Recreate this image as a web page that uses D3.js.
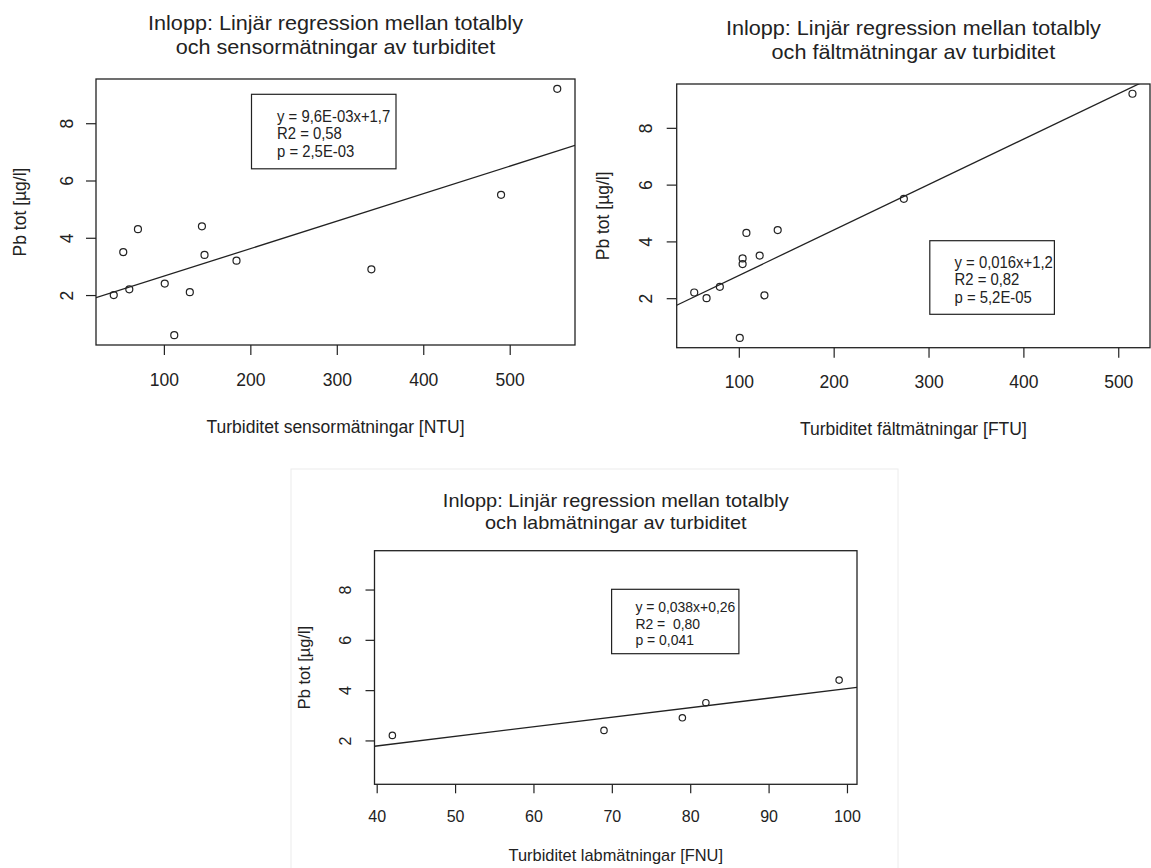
<!DOCTYPE html>
<html>
<head>
<meta charset="utf-8">
<script src="https://cdn.jsdelivr.net/npm/d3@7"></script>
<style>
  html, body { margin: 0; padding: 0; background: #fff; }
  svg { display: block; }
  text { font-family: "Liberation Sans", Arial, Helvetica, sans-serif; fill: #222; white-space: pre; }
</style>
</head>
<body>
<svg id="chart" width="1151" height="868"></svg>
<script>
// Lead (Pb tot) at the inlet against three kinds of turbidity measurement
const sensorNTU = [42, 53, 60, 70, 101, 112, 130, 144, 147, 184, 340, 490, 555];
const sensorPb  = [2.0, 3.5, 2.2, 4.3, 2.4, 0.6, 2.1, 4.4, 3.4, 3.2, 2.9, 5.5, 9.2];

const fieldFTU = [53, 66, 80, 101, 104, 104, 108, 122, 127, 141, 274, 515];
const fieldPb  = [2.2, 2.0, 2.4, 0.6, 3.4, 3.2, 4.3, 3.5, 2.1, 4.4, 5.5, 9.2];

const labFNU = [42, 69, 79, 82, 99];
const labPb  = [2.2, 2.4, 2.9, 3.5, 4.4];

// Fitted lines (slope, intercept) as printed in each legend
const fitSlopes     = [9.6e-3, 0.016, 0.038];
const fitIntercepts = [1.7, 1.2, 0.26];

const legendSensor = ["y = 9,6E-03x+1,7", "R2 = 0,58", "p = 2,5E-03"];
const legendField  = ["y = 0,016x+1,2", "R2 = 0,82", "p = 5,2E-05"];
const legendLab    = ["y = 0,038x+0,26", "R2 =  0,80", "p = 0,041"];

const xTicksTurb = [100, 200, 300, 400, 500];
const xTicksLab  = [40, 50, 60, 70, 80, 90, 100];
const yTicks     = [2, 4, 6, 8];
const yLimits    = [0.6, 9.2]; // shared y range of all three plots

const titleLine1 = "Inlopp: Linjär regression mellan totalbly";
const titleLines2 = ["och sensormätningar av turbiditet", "och fältmätningar av turbiditet", "och labmätningar av turbiditet"];
const xTitles = ["Turbiditet sensormätningar [NTU]", "Turbiditet fältmätningar [FTU]", "Turbiditet labmätningar [FNU]"];
const yTitle = "Pb tot [µg/l]";

// R-style axis range: data range widened by 4 % on each side
function rRange(lo, hi) {
  const d = (hi - lo) * 0.04;
  return [lo - d, hi + d];
}

const svg = d3.select("#chart");
const INK = "#222";

// faint edge of the lower figure
svg.append("rect")
  .attr("x", 291).attr("y", 469).attr("width", 607).attr("height", 410)
  .attr("fill", "none").attr("stroke", "#ececec").attr("stroke-width", 1);

const panels = [
  {
    xs: sensorNTU, ys: sensorPb, xTicks: xTicksTurb, legend: legendSensor, k: 0,
    box: { x0: 96, x1: 575, y0: 79, y1: 345 },
    titleBase: [30.5, 54.1], titleSize: 20.5, titleStretch: 1.055, tickFont: 17.5, tickLen: 10,
    yLabD: 22.7, xLabOff: 41, xTitleBase: 433, yTitleX: 26, axisTitleSize: 17.5, r: 3.5,
    leg: { x0: 251.5, x1: 396, y0: 94.3, y1: 168.8, tx: 277, base: [121.7, 139.3, 157.2], size: 16 }
  },
  {
    xs: fieldFTU, ys: fieldPb, xTicks: xTicksTurb, legend: legendField, k: 1,
    box: { x0: 676.7, x1: 1150, y0: 84, y1: 347.7 },
    titleBase: [35, 58.6], titleSize: 20.5, titleStretch: 1.055, tickFont: 17.5, tickLen: 10,
    yLabD: 24.7, xLabOff: 40.3, xTitleBase: 434.5, yTitleX: 609, axisTitleSize: 17.5, r: 3.5,
    leg: { x0: 929.8, x1: 1054.4, y0: 240.7, y1: 314.3, tx: 954.5, base: [268, 285.5, 303], size: 16 }
  },
  {
    xs: labFNU, ys: labPb, xTicks: xTicksLab, legend: legendLab, k: 2,
    box: { x0: 374.5, x1: 857, y0: 550.7, y1: 784.3 },
    titleBase: [507.5, 529.4], titleSize: 19, titleStretch: 1.05, tickFont: 16, tickLen: 9,
    yLabD: 23.3, xLabOff: 37.4, xTitleBase: 860.5, yTitleX: 309.5, axisTitleSize: 16.4, r: 3.2,
    leg: { x0: 611.6, x1: 738.9, y0: 589.3, y1: 653.7, tx: 635.4, base: [612.5, 629, 645.5], size: 15 }
  }
];

panels.forEach((p, i) => {
  const b = p.box;
  const x = d3.scaleLinear().domain(rRange(d3.min(p.xs), d3.max(p.xs))).range([b.x0, b.x1]);
  const y = d3.scaleLinear().domain(rRange(yLimits[0], yLimits[1])).range([b.y1, b.y0]);
  const g = svg.append("g");
  const cx = (b.x0 + b.x1) / 2, cy = (b.y0 + b.y1) / 2;

  // two-line title, centred over the plot
  const title = g.append("text").attr("text-anchor", "middle").style("font-size", p.titleSize + "px")
    .attr("transform", `translate(${cx},0) scale(${p.titleStretch},1)`);
  [titleLine1, titleLines2[i]].forEach((t, j) => {
    title.append("tspan").attr("x", 0).attr("y", p.titleBase[j]).text(t);
  });

  // clip for the regression line
  const clipId = "clip" + i;
  svg.append("clipPath").attr("id", clipId).append("rect")
    .attr("x", b.x0).attr("y", b.y0).attr("width", b.x1 - b.x0).attr("height", b.y1 - b.y0);

  // bottom axis
  const ax = g.append("g").attr("transform", `translate(0,${b.y1})`)
    .call(d3.axisBottom(x).tickValues(p.xTicks).tickSize(p.tickLen).tickSizeOuter(0).tickFormat(d3.format("d")));
  ax.select(".domain").remove();
  ax.selectAll(".tick line").attr("stroke", INK).attr("stroke-width", 1.2);
  ax.selectAll(".tick text").attr("y", p.xLabOff).attr("dy", 0)
    .attr("fill", INK).style("font-size", p.tickFont + "px").style("font-family", null);

  // left axis, labels parallel to the axis
  const ay = g.append("g").attr("transform", `translate(${b.x0},0)`)
    .call(d3.axisLeft(y).tickValues(yTicks).tickSize(p.tickLen).tickSizeOuter(0).tickFormat(d3.format("d")));
  ay.select(".domain").remove();
  ay.selectAll(".tick line").attr("stroke", INK).attr("stroke-width", 1.2);
  ay.selectAll(".tick text")
    .attr("x", 0).attr("y", -p.yLabD).attr("dy", 0)
    .attr("transform", "rotate(-90)").attr("text-anchor", "middle")
    .attr("fill", INK).style("font-size", p.tickFont + "px").style("font-family", null);

  // axis titles
  g.append("text").attr("x", cx).attr("y", p.xTitleBase).attr("text-anchor", "middle")
    .style("font-size", p.axisTitleSize + "px").text(xTitles[i]);
  g.append("text").attr("transform", `translate(${p.yTitleX},${cy}) rotate(-90)`)
    .attr("text-anchor", "middle").style("font-size", p.axisTitleSize + "px").text(yTitle);

  // regression line across the plot region
  const dom = x.domain();
  const fx = v => fitSlopes[p.k] * v + fitIntercepts[p.k];
  g.append("line")
    .attr("clip-path", `url(#${clipId})`)
    .attr("x1", x(dom[0])).attr("y1", y(fx(dom[0])))
    .attr("x2", x(dom[1])).attr("y2", y(fx(dom[1])))
    .attr("stroke", INK).attr("stroke-width", 1.3);

  // observations as open circles
  g.selectAll("circle.pt").data(p.xs.map((v, j) => [v, p.ys[j]])).join("circle")
    .attr("class", "pt")
    .attr("cx", d => x(d[0])).attr("cy", d => y(d[1])).attr("r", p.r)
    .attr("fill", "none").attr("stroke", INK).attr("stroke-width", 1.2);

  // legend box with the fit statistics
  const L = p.leg;
  g.append("rect").attr("x", L.x0).attr("y", L.y0).attr("width", L.x1 - L.x0).attr("height", L.y1 - L.y0)
    .attr("fill", "#fff").attr("stroke", INK).attr("stroke-width", 1.2);
  const legText = g.append("text").style("font-size", L.size + "px")
    .attr("transform", `translate(${L.tx},0) scale(0.93,1)`);
  p.legend.forEach((t, j) => {
    legText.append("tspan").attr("x", 0).attr("y", L.base[j]).text(t);
  });

  // plot frame
  g.append("rect").attr("x", b.x0).attr("y", b.y0).attr("width", b.x1 - b.x0).attr("height", b.y1 - b.y0)
    .attr("fill", "none").attr("stroke", INK).attr("stroke-width", 1.3);
});
</script>
</body>
</html>
